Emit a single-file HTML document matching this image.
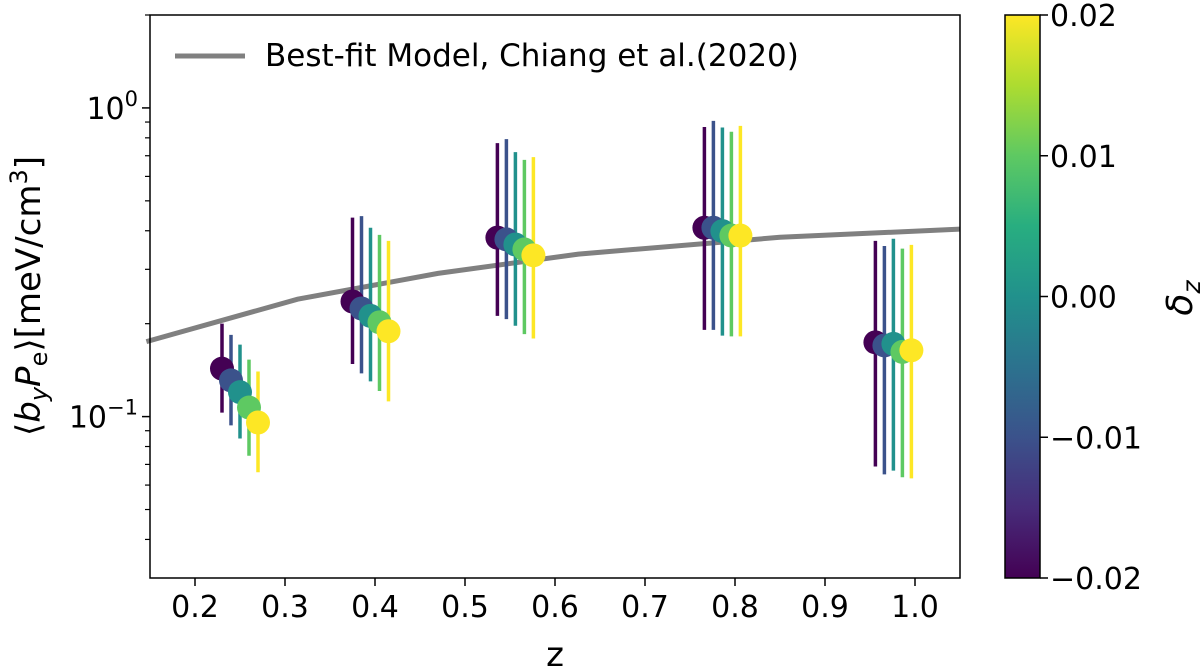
<!DOCTYPE html>
<html><head><meta charset="utf-8"><style>
html,body{margin:0;padding:0;background:#fff;}
svg{display:block;font-family:"DejaVu Sans","Liberation Sans",sans-serif;}
</style></head><body>
<svg id="chart" width="1200" height="671" viewBox="0 0 1200 671">
<defs><linearGradient id="vir" x1="0" y1="1" x2="0" y2="0">
<stop offset="0" stop-color="#440154"/><stop offset="0.125" stop-color="#472c7a"/><stop offset="0.25" stop-color="#3b528b"/><stop offset="0.375" stop-color="#2c728e"/><stop offset="0.5" stop-color="#21918c"/><stop offset="0.625" stop-color="#28ae80"/><stop offset="0.75" stop-color="#5ec962"/><stop offset="0.875" stop-color="#addc30"/><stop offset="1" stop-color="#fde725"/></linearGradient></defs>
<g id="plot"></g>
</svg>
<script>
const zCenters=[0.25,0.395,0.556,0.786,0.976];
const deltas=[-0.02,-0.01,0,0.01,0.02];
const colors=["#440154","#3b528b","#21918c","#5ec962","#fde725"];
const values=[[0.143,0.131,0.120,0.107,0.0957],[0.236,0.224,0.212,0.202,0.189],[0.380,0.375,0.361,0.348,0.333],[0.409,0.409,0.399,0.386,0.386],[0.174,0.170,0.172,0.162,0.164]];
const upper=[[0.200,0.184,0.171,0.153,0.140],[0.441,0.446,0.409,0.388,0.371],[0.769,0.792,0.719,0.679,0.693],[0.867,0.908,0.864,0.837,0.875],[0.371,0.357,0.377,0.350,0.360]];
const lower=[[0.103,0.0937,0.0849,0.0747,0.0660],[0.148,0.138,0.130,0.121,0.112],[0.212,0.207,0.197,0.185,0.179],[0.191,0.191,0.183,0.182,0.182],[0.0689,0.0650,0.0668,0.0636,0.0631]];
const modelZ=[0.146,0.314,0.470,0.626,0.850,1.05];
const modelV=[0.175,0.240,0.291,0.336,0.381,0.405];
const xTicks=[0.2,0.3,0.4,0.5,0.6,0.7,0.8,0.9,1.0];
const cbTicks=[-0.02,-0.01,0.00,0.01,0.02];

const L=150,R=960,T=15,B=578,xmin=0.15,xmax=1.05,ymin=0.03,ymax=2.0;
const X=z=>L+(z-xmin)/(xmax-xmin)*(R-L);
const Y=v=>B-(Math.log10(v)-Math.log10(ymin))/(Math.log10(ymax)-Math.log10(ymin))*(B-T);
const NS="http://www.w3.org/2000/svg";
const g=document.getElementById('plot');
function mk(tag,attrs,parent,text){const e=document.createElementNS(NS,tag);for(const k in attrs)e.setAttribute(k,attrs[k]);if(text!==undefined)e.textContent=text;(parent||g).appendChild(e);return e;}
function ts(parent,text,attrs){const e=document.createElementNS(NS,'tspan');for(const k in (attrs||{}))e.setAttribute(k,attrs[k]);e.textContent=text;parent.appendChild(e);return e;}

let d=modelZ.map((z,i)=>(i?'L':'M')+X(z).toFixed(1)+' '+Y(modelV[i]).toFixed(1)).join(' ');
const ml=mk('path',{d:d,stroke:'#808080','stroke-width':5,fill:'none'});



zCenters.forEach((zc,gi)=>{
  deltas.forEach((dz,j)=>{
    const x=X(zc+dz);
    const eb=mk('line',{x1:x,x2:x,y1:Y(upper[gi][j]),y2:Y(lower[gi][j]),stroke:colors[j],'stroke-width':3.5});
    
    
  });
  deltas.forEach((dz,j)=>{
    const c=mk('circle',{cx:X(zc+dz),cy:Y(values[gi][j]),r:12,fill:colors[j]});
    
    
  });
});

const fr=mk('rect',{x:L,y:T,width:R-L,height:B-T,fill:'none',stroke:'#000','stroke-width':1.5});



xTicks.forEach(t=>{
  const x=X(t);
  mk('line',{x1:x,x2:x,y1:B,y2:B+8,stroke:'#000','stroke-width':1.5});
  const tl=mk('text',{x:x,y:B+39,'font-size':30,'text-anchor':'middle'},g,t.toFixed(1));
  
  
});
[[1,'0'],[0.1,'\u22121']].forEach(([v,e])=>{
  const y=Y(v);
  mk('line',{x1:L-8,x2:L,y1:y,y2:y,stroke:'#000','stroke-width':1.5});
  const tl=mk('text',{x:L-12,y:y+11,'font-size':30,'text-anchor':'end'},g);
  
  
  ts(tl,'10');ts(tl,e,{dy:'-13','font-size':'21'});
});
[0.04,0.05,0.06,0.07,0.08,0.09,0.2,0.3,0.4,0.5,0.6,0.7,0.8,0.9,2].forEach(v=>{
  const y=Y(v); if(y<T-0.5) return;
  mk('line',{x1:L-5,x2:L,y1:y,y2:y,stroke:'#000','stroke-width':1.2});
});
const xl=mk('text',{x:(L+R)/2,y:666,'font-size':34,'text-anchor':'middle'},g,'z');


const yl=mk('text',{x:0,y:0,'font-size':34,'text-anchor':'middle',transform:'translate(40,296) rotate(-90)'},g);


ts(yl,'\u27E8');ts(yl,'b',{'font-style':'italic'});ts(yl,'y',{'font-style':'italic','font-size':'24',dy:'7'});
ts(yl,'P',{'font-style':'italic',dy:'-7'});ts(yl,'e',{'font-size':'24',dy:'7'});ts(yl,'\u27E9[meV/cm',{dy:'-7'});ts(yl,'3',{'font-size':'24',dy:'-13'});ts(yl,']',{dy:'13'});

const lg=mk('g',{});


mk('line',{x1:175,x2:245,y1:56,y2:56,stroke:'#808080','stroke-width':5},lg);
mk('text',{x:265,y:66,'font-size':31},lg,'Best-fit Model, Chiang et al.(2020)');

const cbL=1005,cbR=1040;
const cb=mk('rect',{x:cbL,y:T,width:cbR-cbL,height:B-T,fill:'url(#vir)',stroke:'#000','stroke-width':1.5});


const CY=v=>B-(v+0.02)/0.04*(B-T);
cbTicks.forEach(t=>{
  const y=CY(t);
  mk('line',{x1:cbR,x2:cbR+8,y1:y,y2:y,stroke:'#000','stroke-width':1.5});
  const s=(t<0?'\u2212':'')+Math.abs(t).toFixed(2);
  const tl=mk('text',{x:cbR+10,y:y+11,'font-size':30},g,s);
  
  
});
const cl=mk('text',{x:0,y:0,'font-size':36,'font-style':'italic','text-anchor':'middle',transform:'translate(1192,298) rotate(-90)'},g);


ts(cl,'\u03B4');ts(cl,'z',{dy:'8','font-size':'25'});
</script>
</body></html>
